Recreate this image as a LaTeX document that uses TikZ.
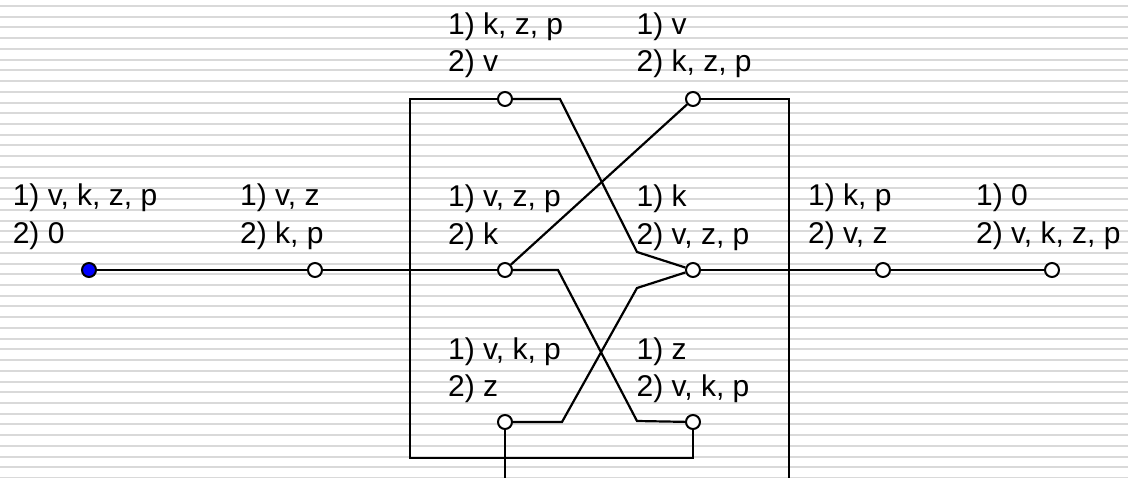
\documentclass[tikz,border=0pt]{standalone}
\usepackage{fontspec}
\setmainfont{Liberation Sans}
\usetikzlibrary{positioning}

\begin{document}
\begin{tikzpicture}[x=1pt, y=-1pt, line width=2.2pt,
    pin/.style={circle, draw, fill=white, minimum size=14pt, inner sep=0pt, line width=2pt},
    start/.style={pin, fill=blue},
    lbl/.style={anchor=north west, inner sep=0pt, align=left, font=\fontsize{30}{37.5}\selectfont},
    stripe/.style={draw=black!15, line width=2pt}]
  % Background
  \path[use as bounding box, clip] (0,0) rectangle (1128,477);
  \fill[white] (0,0) rectangle (1128,477);
  \foreach \i in {0,...,44} {
    \draw[stripe] (0,{6+\i*10.73}) -- (1128,{6+\i*10.73});
  }
  % Contacts
  \node[start] (s0) at (89,270) {};
  \node[pin] (s1) at (315,270) {};
  \node[pin] (ml) at (505,270) {};
  \node[pin] (mr) at (693,270) {};
  \node[pin] (tl) at (505,99) {};
  \node[pin] (tr) at (693,99) {};
  \node[pin] (bl) at (505,422) {};
  \node[pin] (br) at (693,422) {};
  \node[pin] (s4) at (883,270) {};
  \node[pin] (s5) at (1052,270) {};
  % Wires
  \draw (s0) -- (s1) -- (ml);
  \draw (mr) -- (s4) -- (s5);
  \draw (ml) -- (tr);
  \draw (tl) -- (560,99) -- (637,252) -- (mr);
  \draw (ml) -- (558,270) -- (637,421) -- (br);
  \draw (bl) -- (562,422) -- (637,288) -- (mr);
  \draw (tl) -- (410,99) |- (693,458) -- (br);
  \draw (tr) -- (789,99) -- (789,490);
  \draw (bl) -- (505,490);
  % Labels
  \node[lbl] (l0) at (11.7,183) {1) v, k, z, p\\2) 0};
  \node[lbl] (l1) at (239,183) {1) v, z\\2) k, p};
  \node[lbl] (lml) at (447,184) {1) v, z, p\\2) k};
  \node[lbl] (lmr) at (635.5,184) {1) k\\2) v, z, p};
  \node[lbl] (l4) at (807,183) {1) k, p\\2) v, z};
  \node[lbl] (l5) at (975,183) {1) 0\\2) v, k, z, p};
  \node[lbl] (ltl) at (447,11.5) {1) k, z, p\\2) v};
  \node[lbl] (ltr) at (635.5,11.5) {1) v\\2) k, z, p};
  \node[lbl] (lbl) at (447,336.5) {1) v, k, p\\2) z};
  \node[lbl] (lbr) at (635.5,336.5) {1) z\\2) v, k, p};
\end{tikzpicture}
\end{document}
